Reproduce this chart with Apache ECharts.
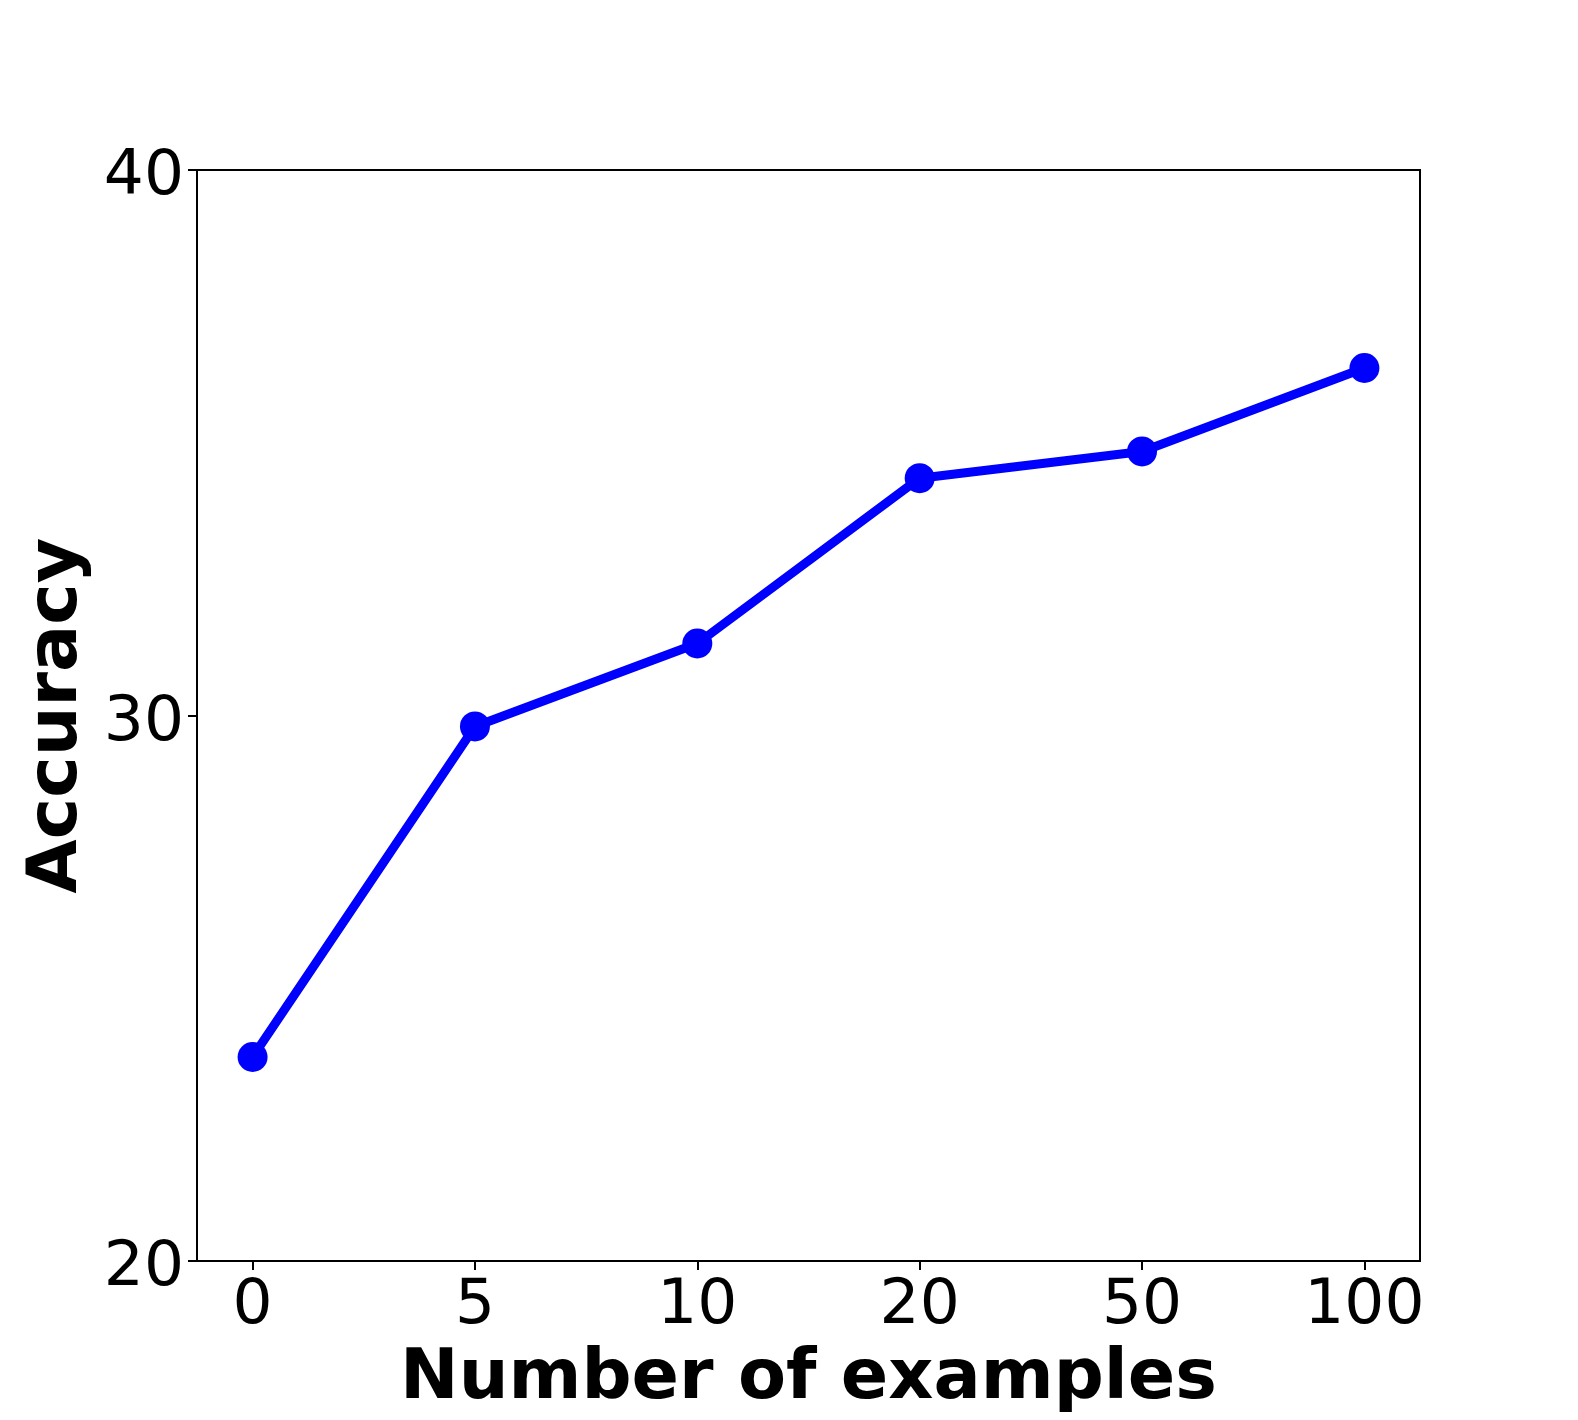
<!DOCTYPE html>
<html>
<head>
<meta charset="utf-8">
<title>Accuracy vs number of examples</title>
<script src="https://cdn.jsdelivr.net/npm/echarts@6/dist/echarts.min.js"></script>
<style>
  html, body { margin: 0; padding: 0; background: #fff; }
  #chart { width: 1578px; height: 1420px; }
</style>
</head>
<body>
<div id="chart"></div>
<script>
// data
const categories = ['0', '5', '10', '20', '50', '100']
const accuracy = [23.74, 29.80, 31.32, 34.35, 34.84, 36.37]
const yTicks = [20, 30, 40]

const positions = categories.map((_, i) => i)
const points = accuracy.map((v, i) => [i, v])

const font = 'DejaVu Sans'
const chart = echarts.init(document.getElementById('chart'))

chart.setOption({
  backgroundColor: '#fff',
  animation: false,
  grid: {
    left: 197, right: 158, top: 170, bottom: 157,
    show: true, borderColor: '#000', borderWidth: 2, backgroundColor: 'transparent',
  },
  xAxis: {
    type: 'value', min: -0.25, max: 5.25,
    name: 'Number of examples', nameLocation: 'middle', nameGap: 84,
    nameTextStyle: { fontFamily: font, fontSize: 70, fontWeight: 'bold', color: '#000' },
    axisLine: { show: true, onZero: false, lineStyle: { color: '#000', width: 2 } },
    axisTick: { show: true, length: 9, customValues: positions, lineStyle: { color: '#000', width: 2 } },
    axisLabel: {
      customValues: positions, margin: 14,
      fontFamily: font, fontSize: 63, color: '#000',
      formatter: v => categories[Math.round(v)],
    },
    splitLine: { show: false },
  },
  yAxis: {
    type: 'value', min: 20, max: 40,
    name: 'Accuracy', nameLocation: 'middle', nameGap: 99, nameRotate: 90,
    nameTextStyle: { fontFamily: font, fontSize: 70, fontWeight: 'bold', color: '#000' },
    axisLine: { show: true, onZero: false, lineStyle: { color: '#000', width: 2 } },
    axisTick: { show: true, length: 9, customValues: yTicks, lineStyle: { color: '#000', width: 2 } },
    axisLabel: {
      customValues: yTicks, margin: 13,
      // a tall empty spacer pushes the digits a bit below the tick, like matplotlib
      formatter: v => '{s|}{t|' + v + '}',
      rich: {
        s: { height: 79, width: 0 },
        t: { fontFamily: font, fontSize: 63, color: '#000', verticalAlign: 'bottom' },
      },
    },
    splitLine: { show: false },
  },
  series: [
    {
      type: 'line', data: points,
      symbol: 'circle', symbolSize: 30,
      lineStyle: { color: '#0000ff', width: 9 },
      itemStyle: { color: '#0000ff' },
    },
  ],
})
</script>
</body>
</html>
